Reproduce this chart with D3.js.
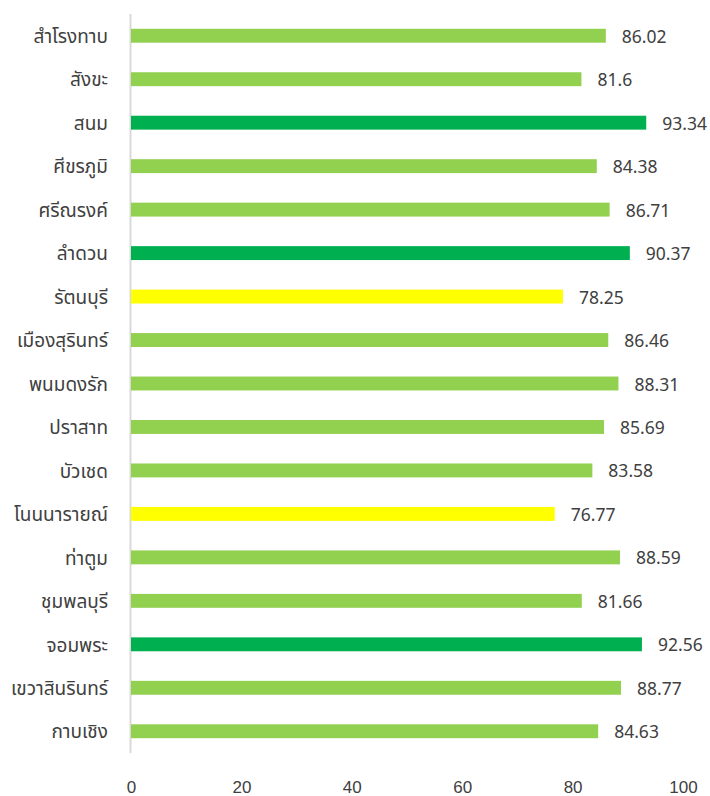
<!DOCTYPE html>
<html><head><meta charset="utf-8">
<script src="https://cdn.jsdelivr.net/npm/d3@7"></script>
<style>body{margin:0;background:#fff;} svg{display:block;font-family:"Noto Sans","Noto Sans Thai",Tahoma,sans-serif;}</style>
</head><body>
<svg id="c" width="710" height="796"></svg>
<script>
const categories = ["สำโรงทาบ","สังขะ","สนม","ศีขรภูมิ","ศรีณรงค์","ลำดวน","รัตนบุรี","เมืองสุรินทร์","พนมดงรัก","ปราสาท","บัวเชด","โนนนารายณ์","ท่าตูม","ชุมพลบุรี","จอมพระ","เขวาสินรินทร์","กาบเชิง"];
const values = [86.02,81.6,93.34,84.38,86.71,90.37,78.25,86.46,88.31,85.69,83.58,76.77,88.59,81.66,92.56,88.77,84.63];
const valueLabels = ["86.02","81.6","93.34","84.38","86.71","90.37","78.25","86.46","88.31","85.69","83.58","76.77","88.59","81.66","92.56","88.77","84.63"];
const colorGroups = ["mid","mid","high","mid","mid","high","low","mid","mid","mid","mid","low","mid","mid","high","mid","mid"];
const xTicks = [0,20,40,60,80,100];
const palette = {high:"#00B050", mid:"#92D050", low:"#FFFF00"};

const svg = d3.select("#c");
const x = d3.scaleLinear().domain([0,100]).range([131,683]);
const y = d3.scaleBand().domain(categories).range([14,753]).paddingInner(0.68).paddingOuter(0.34);

svg.append("line").attr("x1",130.5).attr("x2",130.5).attr("y1",14).attr("y2",753)
  .attr("stroke","#d9d9d9").attr("stroke-width",2);

svg.selectAll("rect.bar").data(categories).enter().append("rect")
  .attr("class","bar")
  .attr("x", x(0))
  .attr("y", d=>y(d))
  .attr("width", (d,i)=>x(values[i])-x(0))
  .attr("height", y.bandwidth())
  .attr("fill", (d,i)=>palette[colorGroups[i]]);

svg.selectAll("text.val").data(categories).enter().append("text")
  .attr("class","val")
  .attr("x", (d,i)=>x(values[i])+16)
  .attr("y", d=>y(d)+y.bandwidth()/2)
  .attr("dy","0.4em")
  .attr("font-size",17.5).attr("fill","#404040")
  .text((d,i)=>valueLabels[i]);

svg.selectAll("text.cat").data(categories).enter().append("text")
  .attr("class","cat")
  .attr("x", 108)
  .attr("y", d=>y(d)+y.bandwidth()/2)
  .attr("dy","0.38em")
  .attr("text-anchor","end")
  .attr("font-size",19).attr("fill","#404040")
  .text(d=>d);

const xAxis = d3.axisBottom(x).tickValues(xTicks).tickSize(0).tickPadding(0);
const gx = svg.append("g").attr("transform","translate(0,781)").call(xAxis);
gx.select(".domain").remove();
gx.selectAll("text").attr("font-size",17).attr("fill","#404040").attr("font-family","inherit").attr("dy","0.72em").attr("y",0);
</script>
</body></html>
